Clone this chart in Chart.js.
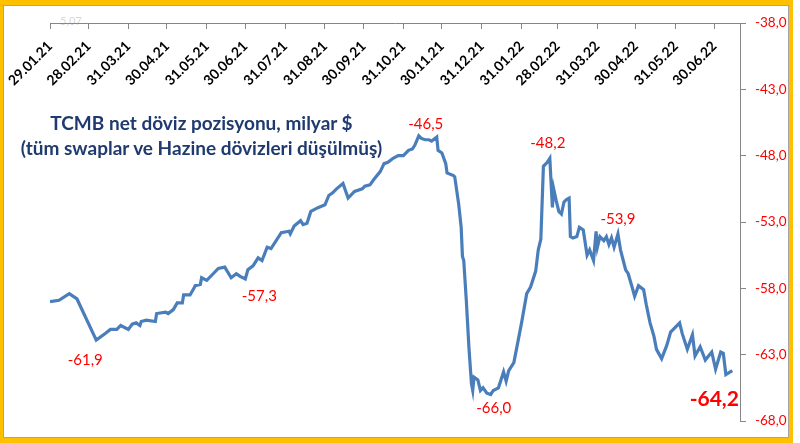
<!DOCTYPE html>
<html><head><meta charset="utf-8">
<script src="https://cdn.jsdelivr.net/npm/chart.js@4/dist/chart.umd.min.js"></script>
<style>
html,body{margin:0;padding:0;width:800px;height:443px;overflow:hidden;background:#fff;}
#frame{position:absolute;left:0;top:0;width:793px;height:443px;background:#FFC000;}
#inner{position:absolute;left:3px;top:5px;width:786px;height:433px;background:#fff;border:1px solid #A5A5A5;box-sizing:border-box;}
#ghost{position:absolute;left:60px;top:14px;font:11px Lato;color:#d8d8d8;}
#c{position:absolute;left:0;top:0;}
#title{position:absolute;left:0;width:403px;top:110px;text-align:center;font:bold 19px Lato;color:#1F3A6E;line-height:25px;}
</style></head>
<body>
<div id="frame"><div id="inner"></div></div>
<div id="ghost">5,07</div>
<canvas id="c" width="800" height="443" style="width:800px;height:443px"></canvas>
<div id="title">TCMB net döviz pozisyonu, milyar $<br>(tüm swaplar ve Hazine dövizleri düşülmüş)</div>
<script>
// days since 29.01.2021
const dayIndex = [0,7,15,21,36,43,47,52,55,61,64,67,70,71,75,82,83,90,92,96,99,103,104,109,112,113,117,118,122,127,131,136,141,145,148,152,154,158,162,165,169,172,180,186,187,190,195,197,200,203,209,214,217,220,223,228,232,237,243,245,249,252,257,260,263,267,271,275,279,282,284,287,289,292,295,297,301,302,305,308,309,314,315,318,320,321,322,324,326,328,329,330,333,335,337,340,343,345,349,353,355,357,361,363,367,371,374,378,380,382,384,387,389,390,391,392,394,396,398,400,402,404,405,407,410,412,415,418,420,423,425,426,428,431,433,435,437,439,442,444,448,450,453,455,458,462,464,467,470,472,476,480,483,487,490,492,496,500,502,506,510,515,518,522,524,526,531];
const netPosition = [-59.0,-58.9,-58.4,-58.8,-61.9,-61.4,-61.1,-61.1,-60.8,-61.1,-60.7,-60.6,-60.8,-60.5,-60.4,-60.5,-59.9,-59.8,-59.9,-59.6,-59.1,-59.1,-58.5,-58.5,-58.0,-57.8,-57.7,-57.2,-57.4,-56.9,-56.5,-56.4,-57.2,-56.9,-57.1,-57.3,-56.6,-56.3,-55.7,-55.9,-54.9,-55.0,-53.8,-53.7,-53.9,-53.3,-52.9,-53.2,-53.1,-52.2,-51.9,-51.7,-51.0,-50.8,-50.5,-50.1,-51.2,-50.7,-50.5,-50.3,-50.2,-49.8,-49.2,-48.6,-48.5,-48.2,-48.0,-48.0,-47.6,-47.5,-47.2,-46.5,-46.7,-46.8,-46.8,-46.9,-46.6,-47.6,-47.8,-48.6,-49.3,-49.5,-49.6,-51.6,-53.4,-55.6,-55.9,-58.9,-62.4,-65.2,-65.7,-64.7,-64.9,-65.7,-65.5,-65.9,-66.0,-65.7,-65.5,-64.3,-65.0,-64.2,-63.6,-62.6,-60.6,-58.4,-57.9,-56.7,-55.1,-54.3,-48.8,-48.5,-48.2,-50.1,-51.9,-50.5,-51.4,-52.2,-52.4,-51.5,-51.3,-51.2,-54.1,-54.2,-54.1,-53.4,-53.6,-55.5,-55.1,-55.9,-53.7,-54.9,-54.1,-54.4,-54.1,-54.7,-54.2,-54.9,-53.9,-55.1,-56.6,-56.9,-57.9,-58.6,-57.8,-58.1,-59.2,-60.6,-61.6,-62.6,-63.3,-62.3,-61.3,-60.9,-60.6,-61.4,-62.6,-61.5,-63.1,-62.4,-63.4,-62.8,-64.1,-62.8,-62.9,-64.5,-64.2];

const tickDays = [0,30,61,91,122,152,183,214,244,275,305,336,367,395,426,456,487,517];
const tickLabels = ['29.01.21','28.02.21','31.03.21','30.04.21','31.05.21','30.06.21','31.07.21','31.08.21','30.09.21','31.10.21','30.11.21','31.12.21','31.01.22','28.02.22','31.03.22','30.04.22','31.05.22','30.06.22'];
const yTicks = [-38,-43,-48,-53,-58,-63,-68];

const peakLabels = ['-61,9','-57,3','-46,5','-66,0','-48,2','-53,9','-64,2'];
const peakDays = [36,152,287,343,389,442,531];
const peakValues = [-61.9,-57.3,-46.5,-66.0,-48.2,-53.9,-64.2];

// pixel offsets of the annotation text relative to its point (style only)
const labelOffsets = [[-11,20],[14,17],[7,-12],[3,14],[-2,-15],[0,-15],[-18,29]];

const peakLabelPlugin = {
  id: 'peakLabels',
  afterDatasetsDraw(chart) {
    const {ctx, scales} = chart;
    ctx.save();
    ctx.fillStyle = '#FF0000';
    ctx.textAlign = 'center';
    ctx.textBaseline = 'middle';
    peakLabels.forEach((t, i) => {
      const big = i === peakLabels.length - 1;
      ctx.font = big ? 'bold 21px Lato' : '15px Lato';
      const px = scales.x.getPixelForValue(peakDays[i]) + labelOffsets[i][0];
      const py = scales.y.getPixelForValue(peakValues[i]) + labelOffsets[i][1];
      ctx.fillText(t, px, py);
    });
    ctx.restore();
  }
};

function draw() {
  new Chart(document.getElementById('c'), {
    type: 'line',
    data: {
      datasets: [{
        data: dayIndex.map((d, i) => ({x: d, y: netPosition[i]})),
        borderColor: '#4A7EBB',
        borderWidth: 3.2,
        pointRadius: 0,
        tension: 0,
        fill: false
      }]
    },
    options: {
      responsive: false,
      animation: false,
      events: [],
      layout: {padding: {left: 50, right: 0, top: 23, bottom: 22}},
      plugins: {legend: {display: false}, tooltip: {enabled: false}, title: {display: false}},
      scales: {
        x: {
          type: 'linear',
          position: {y: -38},
          min: 0, max: 537,
          afterBuildTicks: s => { s.ticks = tickDays.map(v => ({value: v})); },
          grid: {drawOnChartArea: false, drawTicks: true, tickLength: 5, color: '#868686'},
          border: {display: true, color: '#868686', width: 1},
          ticks: {
            autoSkip: false, minRotation: 45, maxRotation: 45,
            padding: 10,
            color: '#000',
            font: {family: 'Lato', weight: 'bold', size: 14},
            callback: (v, i) => tickLabels[i]
          }
        },
        y: {
          type: 'linear',
          position: 'right',
          min: -68, max: -38,
          afterBuildTicks: s => { s.ticks = yTicks.map(v => ({value: v})); },
          afterFit: s => { s.width = 60; },
          grid: {drawOnChartArea: false, drawTicks: true, tickLength: 6, color: '#868686'},
          border: {display: true, color: '#868686', width: 1},
          ticks: {
            padding: 9,
            color: '#FF0000',
            font: {family: 'Lato', size: 13.5},
            callback: v => v.toFixed(1).replace('.', ',')
          }
        }
      }
    },
    plugins: [peakLabelPlugin]
  });
}
Promise.all([
  document.fonts.load('13px Lato'),
  document.fonts.load('bold 14px Lato'),
  document.fonts.load('bold 19px Lato')
]).then(draw, draw);
</script>
</body></html>
